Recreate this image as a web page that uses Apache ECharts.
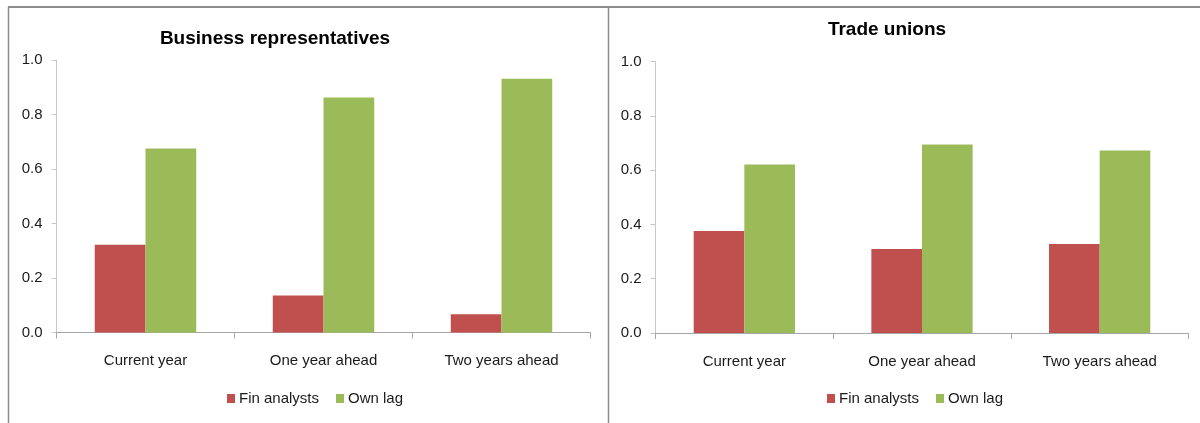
<!DOCTYPE html>
<html>
<head>
<meta charset="utf-8">
<script src="https://cdn.jsdelivr.net/npm/echarts@6/dist/echarts.min.js"></script>
<style>
  html, body { margin: 0; padding: 0; background: #ffffff; }
  #chart { width: 1200px; height: 423px; }
</style>
</head>
<body>
<div id="chart"></div>
<script>
// Horizons compared in both panels
const categories = ['Current year', 'One year ahead', 'Two years ahead'];

// Business representatives panel
const businessFinAnalysts = [0.322, 0.136, 0.067];
const businessOwnLag = [0.675, 0.862, 0.931];

// Trade unions panel
const unionsFinAnalysts = [0.376, 0.309, 0.328];
const unionsOwnLag = [0.621, 0.694, 0.672];

const yTicks = [0, 0.2, 0.4, 0.6, 0.8, 1.0];
const seriesNames = ['Fin analysts', 'Own lag'];
const panelTitles = ['Business representatives', 'Trade unions'];

const RED = '#C0504D';
const GREEN = '#9BBB59';
const FONT = '"Liberation Sans", Arial, sans-serif';
const LABEL_SIZE = 15;

const chart = echarts.init(document.getElementById('chart'), null, { renderer: 'canvas' });

function xAxisFor(gridIndex) {
  return {
    type: 'category',
    gridIndex,
    data: categories,
    axisLine: { lineStyle: { color: '#a6a6a6', width: 1 } },
    axisTick: { show: true, length: 6, lineStyle: { color: '#a6a6a6' } },
    axisLabel: { color: '#1a1a1a', fontFamily: FONT, fontSize: LABEL_SIZE, margin: 21 },
    splitLine: { show: false }
  };
}

function yAxisFor(gridIndex) {
  return {
    type: 'value',
    gridIndex,
    min: yTicks[0],
    max: yTicks[yTicks.length - 1],
    interval: 0.2,
    axisLine: { show: true, lineStyle: { color: '#c8c8c8', width: 1 } },
    axisTick: { show: true, length: 5, lineStyle: { color: '#c8c8c8' } },
    axisLabel: {
      color: '#1a1a1a', fontFamily: FONT, fontSize: LABEL_SIZE, margin: 14,
      formatter: v => v.toFixed(1)
    },
    splitLine: { show: false }
  };
}

function barSeries(name, data, color, idx) {
  return {
    name,
    type: 'bar',
    xAxisIndex: idx,
    yAxisIndex: idx,
    data,
    itemStyle: { color },
    barGap: '0%',
    barCategoryGap: '43%',
    animation: false
  };
}

function legendAt(left) {
  return {
    data: seriesNames, left, top: 391, padding: 0,
    itemWidth: 8, itemHeight: 9, itemGap: 17,
    icon: 'rect',
    textStyle: { fontFamily: FONT, fontSize: LABEL_SIZE, color: '#1a1a1a', padding: [0, 0, 0, -1] }
  };
}

const option = {
  backgroundColor: '#ffffff',
  animation: false,
  title: [
    {
      text: panelTitles[0], left: 275, top: 29, padding: 0, textAlign: 'center',
      textStyle: { fontFamily: FONT, fontWeight: 'bold', fontSize: 19, color: '#000' }
    },
    {
      text: panelTitles[1], left: 887, top: 20, padding: 0, textAlign: 'center',
      textStyle: { fontFamily: FONT, fontWeight: 'bold', fontSize: 19, color: '#000' }
    }
  ],
  legend: [legendAt(227), legendAt(827)],
  grid: [
    { left: 56.5, right: 609.5, top: 60, bottom: 90.5, containLabel: false },
    { left: 655.5, right: 11.5, top: 61.5, bottom: 90, containLabel: false }
  ],
  xAxis: [xAxisFor(0), xAxisFor(1)],
  yAxis: [yAxisFor(0), yAxisFor(1)],
  series: [
    barSeries(seriesNames[0], businessFinAnalysts, RED, 0),
    barSeries(seriesNames[1], businessOwnLag, GREEN, 0),
    barSeries(seriesNames[0], unionsFinAnalysts, RED, 1),
    barSeries(seriesNames[1], unionsOwnLag, GREEN, 1)
  ],
  graphic: [
    // outer frame: top edge, left edge and the divider between the two panels
    { type: 'line', shape: { x1: 8, y1: 7, x2: 1200, y2: 7 }, style: { stroke: '#8c8c8c', lineWidth: 2 }, silent: true },
    { type: 'line', shape: { x1: 8.5, y1: 7, x2: 8.5, y2: 423 }, style: { stroke: '#8c8c8c', lineWidth: 1.5 }, silent: true },
    { type: 'line', shape: { x1: 608.5, y1: 7, x2: 608.5, y2: 423 }, style: { stroke: '#8c8c8c', lineWidth: 1.5 }, silent: true }
  ]
};

chart.setOption(option);
</script>
</body>
</html>
